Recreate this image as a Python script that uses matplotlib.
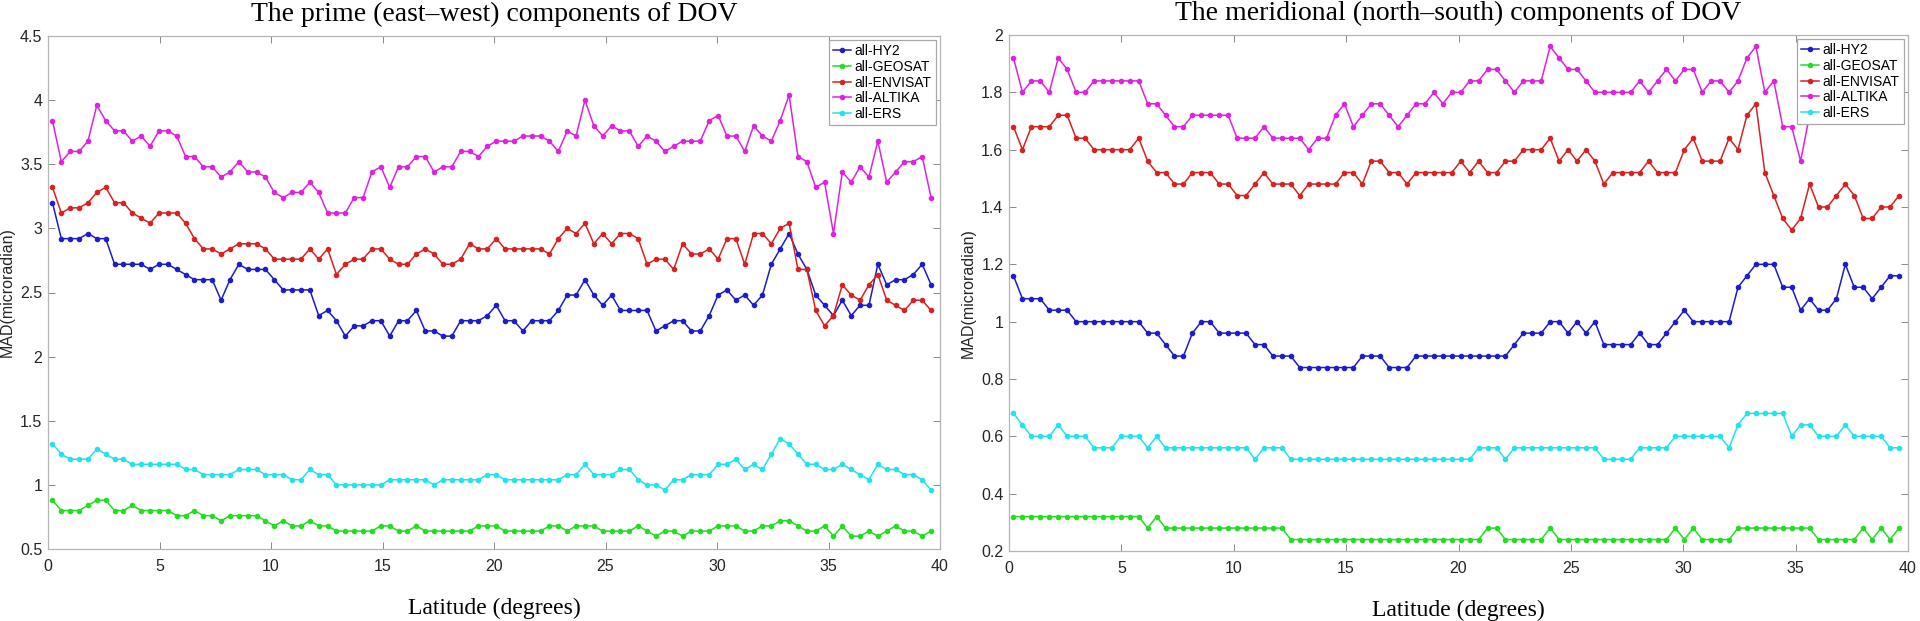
import numpy as np
import matplotlib
matplotlib.use("Agg")
import matplotlib.pyplot as plt
from matplotlib.ticker import FuncFormatter, MultipleLocator

# ---------------- data ----------------
lat = np.linspace(0.2, 39.6, 100)

series_names = ["all-HY2", "all-GEOSAT", "all-ENVISAT", "all-ALTIKA", "all-ERS"]
series_colors = ["#1c1ccc", "#22dd22", "#d62222", "#de22de", "#22e2ee"]

prime_hy2 = [3.20, 2.92, 2.92, 2.92, 2.96, 2.92, 2.92, 2.72, 2.72, 2.72,
             2.72, 2.68, 2.72, 2.72, 2.68, 2.64, 2.60, 2.60, 2.60, 2.44,
             2.60, 2.72, 2.68, 2.68, 2.68, 2.60, 2.52, 2.52, 2.52, 2.52,
             2.32, 2.36, 2.28, 2.16, 2.24, 2.24, 2.28, 2.28, 2.16, 2.28,
             2.28, 2.36, 2.20, 2.20, 2.16, 2.16, 2.28, 2.28, 2.28, 2.32,
             2.40, 2.28, 2.28, 2.20, 2.28, 2.28, 2.28, 2.36, 2.48, 2.48,
             2.60, 2.48, 2.40, 2.48, 2.36, 2.36, 2.36, 2.36, 2.20, 2.24,
             2.28, 2.28, 2.20, 2.20, 2.32, 2.48, 2.52, 2.44, 2.48, 2.40,
             2.48, 2.72, 2.84, 2.96, 2.80, 2.68, 2.48, 2.40, 2.32, 2.44,
             2.32, 2.40, 2.40, 2.72, 2.56, 2.60, 2.60, 2.64, 2.72, 2.56]

prime_geosat = [0.88, 0.80, 0.80, 0.80, 0.84, 0.88, 0.88, 0.80, 0.80, 0.84,
                0.80, 0.80, 0.80, 0.80, 0.76, 0.76, 0.80, 0.76, 0.76, 0.72,
                0.76, 0.76, 0.76, 0.76, 0.72, 0.68, 0.72, 0.68, 0.68, 0.72,
                0.68, 0.68, 0.64, 0.64, 0.64, 0.64, 0.64, 0.68, 0.68, 0.64,
                0.64, 0.68, 0.64, 0.64, 0.64, 0.64, 0.64, 0.64, 0.68, 0.68,
                0.68, 0.64, 0.64, 0.64, 0.64, 0.64, 0.68, 0.68, 0.64, 0.68,
                0.68, 0.68, 0.64, 0.64, 0.64, 0.64, 0.68, 0.64, 0.60, 0.64,
                0.64, 0.60, 0.64, 0.64, 0.64, 0.68, 0.68, 0.68, 0.64, 0.64,
                0.68, 0.68, 0.72, 0.72, 0.68, 0.64, 0.64, 0.68, 0.60, 0.68,
                0.60, 0.60, 0.64, 0.60, 0.64, 0.68, 0.64, 0.64, 0.60, 0.64]

prime_envisat = [3.32, 3.12, 3.16, 3.16, 3.20, 3.28, 3.32, 3.20, 3.20, 3.12,
                 3.08, 3.04, 3.12, 3.12, 3.12, 3.04, 2.92, 2.84, 2.84, 2.80,
                 2.84, 2.88, 2.88, 2.88, 2.84, 2.76, 2.76, 2.76, 2.76, 2.84,
                 2.76, 2.84, 2.64, 2.72, 2.76, 2.76, 2.84, 2.84, 2.76, 2.72,
                 2.72, 2.80, 2.84, 2.80, 2.72, 2.72, 2.76, 2.88, 2.84, 2.84,
                 2.92, 2.84, 2.84, 2.84, 2.84, 2.84, 2.80, 2.92, 3.00, 2.96,
                 3.04, 2.88, 2.96, 2.88, 2.96, 2.96, 2.92, 2.72, 2.76, 2.76,
                 2.68, 2.88, 2.80, 2.80, 2.84, 2.76, 2.92, 2.92, 2.72, 2.96,
                 2.96, 2.88, 3.00, 3.04, 2.68, 2.68, 2.36, 2.24, 2.32, 2.56,
                 2.48, 2.44, 2.56, 2.64, 2.44, 2.40, 2.36, 2.44, 2.44, 2.36]

prime_altika = [3.84, 3.52, 3.60, 3.60, 3.68, 3.96, 3.84, 3.76, 3.76, 3.68,
                3.72, 3.64, 3.76, 3.76, 3.72, 3.56, 3.56, 3.48, 3.48, 3.40,
                3.44, 3.52, 3.44, 3.44, 3.40, 3.28, 3.24, 3.28, 3.28, 3.36,
                3.28, 3.12, 3.12, 3.12, 3.24, 3.24, 3.44, 3.48, 3.32, 3.48,
                3.48, 3.56, 3.56, 3.44, 3.48, 3.48, 3.60, 3.60, 3.56, 3.64,
                3.68, 3.68, 3.68, 3.72, 3.72, 3.72, 3.68, 3.60, 3.76, 3.72,
                4.00, 3.80, 3.72, 3.80, 3.76, 3.76, 3.64, 3.72, 3.68, 3.60,
                3.64, 3.68, 3.68, 3.68, 3.84, 3.88, 3.72, 3.72, 3.60, 3.80,
                3.72, 3.68, 3.84, 4.04, 3.56, 3.52, 3.32, 3.36, 2.96, 3.44,
                3.36, 3.48, 3.40, 3.68, 3.36, 3.44, 3.52, 3.52, 3.56, 3.24]

prime_ers = [1.32, 1.24, 1.20, 1.20, 1.20, 1.28, 1.24, 1.20, 1.20, 1.16,
             1.16, 1.16, 1.16, 1.16, 1.16, 1.12, 1.12, 1.08, 1.08, 1.08,
             1.08, 1.12, 1.12, 1.12, 1.08, 1.08, 1.08, 1.04, 1.04, 1.12,
             1.08, 1.08, 1.00, 1.00, 1.00, 1.00, 1.00, 1.00, 1.04, 1.04,
             1.04, 1.04, 1.04, 1.00, 1.04, 1.04, 1.04, 1.04, 1.04, 1.08,
             1.08, 1.04, 1.04, 1.04, 1.04, 1.04, 1.04, 1.04, 1.08, 1.08,
             1.16, 1.08, 1.08, 1.08, 1.12, 1.12, 1.04, 1.00, 1.00, 0.96,
             1.04, 1.04, 1.08, 1.08, 1.08, 1.16, 1.16, 1.20, 1.12, 1.16,
             1.12, 1.24, 1.36, 1.32, 1.24, 1.16, 1.16, 1.12, 1.12, 1.16,
             1.12, 1.08, 1.04, 1.16, 1.12, 1.12, 1.08, 1.08, 1.04, 0.96]

merid_hy2 = [1.16, 1.08, 1.08, 1.08, 1.04, 1.04, 1.04, 1.00, 1.00, 1.00,
             1.00, 1.00, 1.00, 1.00, 1.00, 0.96, 0.96, 0.92, 0.88, 0.88,
             0.96, 1.00, 1.00, 0.96, 0.96, 0.96, 0.96, 0.92, 0.92, 0.88,
             0.88, 0.88, 0.84, 0.84, 0.84, 0.84, 0.84, 0.84, 0.84, 0.88,
             0.88, 0.88, 0.84, 0.84, 0.84, 0.88, 0.88, 0.88, 0.88, 0.88,
             0.88, 0.88, 0.88, 0.88, 0.88, 0.88, 0.92, 0.96, 0.96, 0.96,
             1.00, 1.00, 0.96, 1.00, 0.96, 1.00, 0.92, 0.92, 0.92, 0.92,
             0.96, 0.92, 0.92, 0.96, 1.00, 1.04, 1.00, 1.00, 1.00, 1.00,
             1.00, 1.12, 1.16, 1.20, 1.20, 1.20, 1.12, 1.12, 1.04, 1.08,
             1.04, 1.04, 1.08, 1.20, 1.12, 1.12, 1.08, 1.12, 1.16, 1.16]

merid_geosat = [0.32, 0.32, 0.32, 0.32, 0.32, 0.32, 0.32, 0.32, 0.32, 0.32,
                0.32, 0.32, 0.32, 0.32, 0.32, 0.28, 0.32, 0.28, 0.28, 0.28,
                0.28, 0.28, 0.28, 0.28, 0.28, 0.28, 0.28, 0.28, 0.28, 0.28,
                0.28, 0.24, 0.24, 0.24, 0.24, 0.24, 0.24, 0.24, 0.24, 0.24,
                0.24, 0.24, 0.24, 0.24, 0.24, 0.24, 0.24, 0.24, 0.24, 0.24,
                0.24, 0.24, 0.24, 0.28, 0.28, 0.24, 0.24, 0.24, 0.24, 0.24,
                0.28, 0.24, 0.24, 0.24, 0.24, 0.24, 0.24, 0.24, 0.24, 0.24,
                0.24, 0.24, 0.24, 0.24, 0.28, 0.24, 0.28, 0.24, 0.24, 0.24,
                0.24, 0.28, 0.28, 0.28, 0.28, 0.28, 0.28, 0.28, 0.28, 0.28,
                0.24, 0.24, 0.24, 0.24, 0.24, 0.28, 0.24, 0.28, 0.24, 0.28]

merid_envisat = [1.68, 1.60, 1.68, 1.68, 1.68, 1.72, 1.72, 1.64, 1.64, 1.60,
                 1.60, 1.60, 1.60, 1.60, 1.64, 1.56, 1.52, 1.52, 1.48, 1.48,
                 1.52, 1.52, 1.52, 1.48, 1.48, 1.44, 1.44, 1.48, 1.52, 1.48,
                 1.48, 1.48, 1.44, 1.48, 1.48, 1.48, 1.48, 1.52, 1.52, 1.48,
                 1.56, 1.56, 1.52, 1.52, 1.48, 1.52, 1.52, 1.52, 1.52, 1.52,
                 1.56, 1.52, 1.56, 1.52, 1.52, 1.56, 1.56, 1.60, 1.60, 1.60,
                 1.64, 1.56, 1.60, 1.56, 1.60, 1.56, 1.48, 1.52, 1.52, 1.52,
                 1.52, 1.56, 1.52, 1.52, 1.52, 1.60, 1.64, 1.56, 1.56, 1.56,
                 1.64, 1.60, 1.72, 1.76, 1.52, 1.44, 1.36, 1.32, 1.36, 1.48,
                 1.40, 1.40, 1.44, 1.48, 1.44, 1.36, 1.36, 1.40, 1.40, 1.44]

merid_altika = [1.92, 1.80, 1.84, 1.84, 1.80, 1.92, 1.88, 1.80, 1.80, 1.84,
                1.84, 1.84, 1.84, 1.84, 1.84, 1.76, 1.76, 1.72, 1.68, 1.68,
                1.72, 1.72, 1.72, 1.72, 1.72, 1.64, 1.64, 1.64, 1.68, 1.64,
                1.64, 1.64, 1.64, 1.60, 1.64, 1.64, 1.72, 1.76, 1.68, 1.72,
                1.76, 1.76, 1.72, 1.68, 1.72, 1.76, 1.76, 1.80, 1.76, 1.80,
                1.80, 1.84, 1.84, 1.88, 1.88, 1.84, 1.80, 1.84, 1.84, 1.84,
                1.96, 1.92, 1.88, 1.88, 1.84, 1.80, 1.80, 1.80, 1.80, 1.80,
                1.84, 1.80, 1.84, 1.88, 1.84, 1.88, 1.88, 1.80, 1.84, 1.84,
                1.80, 1.84, 1.92, 1.96, 1.80, 1.84, 1.68, 1.68, 1.56, 1.72,
                1.80, 1.76, 1.84, 1.80, 1.76, 1.80, 1.84, 1.80, 1.76, 1.80]

merid_ers = [0.68, 0.64, 0.60, 0.60, 0.60, 0.64, 0.60, 0.60, 0.60, 0.56,
             0.56, 0.56, 0.60, 0.60, 0.60, 0.56, 0.60, 0.56, 0.56, 0.56,
             0.56, 0.56, 0.56, 0.56, 0.56, 0.56, 0.56, 0.52, 0.56, 0.56,
             0.56, 0.52, 0.52, 0.52, 0.52, 0.52, 0.52, 0.52, 0.52, 0.52,
             0.52, 0.52, 0.52, 0.52, 0.52, 0.52, 0.52, 0.52, 0.52, 0.52,
             0.52, 0.52, 0.56, 0.56, 0.56, 0.52, 0.56, 0.56, 0.56, 0.56,
             0.56, 0.56, 0.56, 0.56, 0.56, 0.56, 0.52, 0.52, 0.52, 0.52,
             0.56, 0.56, 0.56, 0.56, 0.60, 0.60, 0.60, 0.60, 0.60, 0.60,
             0.56, 0.64, 0.68, 0.68, 0.68, 0.68, 0.68, 0.60, 0.64, 0.64,
             0.60, 0.60, 0.60, 0.64, 0.60, 0.60, 0.60, 0.60, 0.56, 0.56]

prime_series = [prime_hy2, prime_geosat, prime_envisat, prime_altika, prime_ers]
merid_series = [merid_hy2, merid_geosat, merid_envisat, merid_altika, merid_ers]

titles = ["The prime (east\u2013west) components of DOV",
          "The meridional (north\u2013south) components of DOV"]
xlabel_text = "Latitude (degrees)"
ylabel_text = "MAD(microradian)"

# ---------------- figure ----------------
SANS = ["Liberation Sans", "DejaVu Sans"]
SERIF = ["Liberation Serif", "DejaVu Serif"]

fig = plt.figure(figsize=(19.2, 6.21), dpi=100)
W, H = 1920.0, 621.0
ax1 = fig.add_axes([48 / W, (H - 549) / H, 892 / W, 513 / H])
ax2 = fig.add_axes([1009 / W, (H - 551) / H, 899 / W, 516 / H])

fmt = FuncFormatter(lambda v, p: f"{round(v, 2):g}")

for ax, data, title, ylim, ystep in [
        (ax1, prime_series, titles[0], (0.5, 4.5), 0.5),
        (ax2, merid_series, titles[1], (0.2, 2.0), 0.2)]:
    for name, col, vals in zip(series_names, series_colors, data):
        ax.plot(lat, vals, color=col, lw=1.1, marker="o", ms=3.2,
                mfc=col, mec=col, mew=0.8, label=name)
    ax.set_xlim(0, 40)
    ax.set_ylim(*ylim)
    ax.xaxis.set_major_locator(MultipleLocator(5))
    ax.yaxis.set_major_locator(MultipleLocator(ystep))
    ax.xaxis.set_major_formatter(fmt)
    ax.yaxis.set_major_formatter(fmt)
    for s in ax.spines.values():
        s.set_color("#b5b5b5")
        s.set_linewidth(0.9)
    ax.tick_params(direction="in", length=5, width=0.7, color="#8a8a8a",
                   top=True, right=True, labelsize=11.5, labelcolor="#262626")
    ax.tick_params(axis="x", pad=7)
    ax.tick_params(axis="y", pad=4)
    for lab in ax.get_xticklabels() + ax.get_yticklabels():
        lab.set_family(SANS)
    ax.set_title(title, fontsize=20, family=SERIF, pad=11)
    ax.set_xlabel(xlabel_text, fontsize=17, family=SERIF, labelpad=17)
    ax.set_ylabel(ylabel_text, fontsize=11.5, family=SANS, color="#262626",
                  labelpad=4)
    leg = ax.legend(loc="upper right", prop={"family": SANS, "size": 10},
                    handlelength=1.3, handletextpad=0.25, labelspacing=0.12,
                    borderpad=0.3, borderaxespad=0.3, fancybox=False,
                    framealpha=1, edgecolor="#a8a8a8")
    leg.get_frame().set_linewidth(0.9)

fig.savefig("out.png", dpi=100)
